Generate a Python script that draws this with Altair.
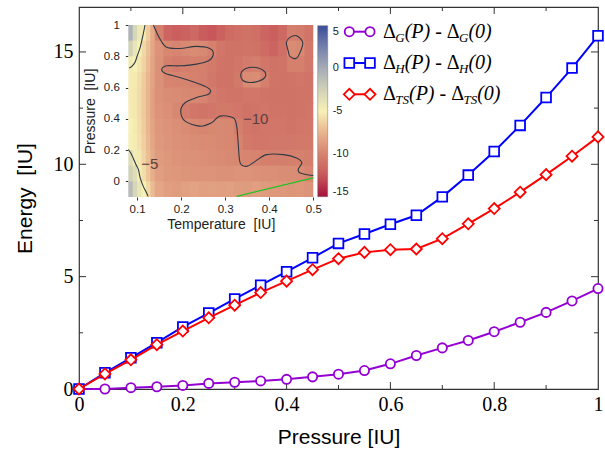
import altair as alt
import pandas as pd

SERIF = "Liberation Serif"
SANS = "Liberation Sans"
FRAME = "#333333"
NBSP = "\u00a0"

# ---------------- main panel: energy differences vs pressure ----------------
pressure = [0.0, 0.05, 0.10, 0.15, 0.20, 0.25, 0.30, 0.35, 0.40, 0.45, 0.50,
            0.55, 0.60, 0.65, 0.70, 0.75, 0.80, 0.85, 0.90, 0.95, 1.0]
delta_g = [0.0, 0.0, 0.06, 0.10, 0.16, 0.25, 0.30, 0.36, 0.43, 0.54, 0.66,
           0.82, 1.12, 1.49, 1.83, 2.16, 2.55, 2.97, 3.41, 3.92, 4.47]
delta_h = [0.0, 0.72, 1.39, 2.06, 2.76, 3.38, 4.01, 4.62, 5.22, 5.84, 6.48,
           6.90, 7.33, 7.73, 8.55, 9.52, 10.57, 11.73, 12.97, 14.28, 15.72]
delta_ts = [0.0, 0.67, 1.30, 1.97, 2.58, 3.17, 3.73, 4.29, 4.80, 5.31, 5.80,
            6.08, 6.20, 6.23, 6.69, 7.35, 8.03, 8.76, 9.54, 10.36, 11.22]

# (subscript, values, colour, marker shape, marker area)
series = [
    ("G", delta_g, "#9400d3", "circle", 85),
    ("H", delta_h, "#0000ff", "square", 94),
    ("TS", delta_ts, "#ff0000", "diamond", 121),
]

x_labels = [0, 0.2, 0.4, 0.6, 0.8, 1]
y_labels = [0, 5, 10, 15]
x_major = [0.2, 0.4, 0.6, 0.8]
x_minor = [0.1, 0.3, 0.5, 0.7, 0.9]
y_major = [5, 10, 15]
y_minor = [2.5, 7.5, 12.5]

# ---------------- inset: map over temperature / pressure ----------------
t_edges = [0.08, 0.09, 0.10, 0.11, 0.12, 0.13, 0.14, 0.16, 0.18, 0.20, 0.22, 0.24,
           0.26, 0.28, 0.30, 0.32, 0.34, 0.36, 0.38, 0.40, 0.42, 0.44, 0.46, 0.48, 0.50]
p_edges = [1.0, 0.9, 0.8, 0.7, 0.6, 0.5, 0.4, 0.3, 0.2, 0.1, 0.0, -0.1]
heat_rows = [
    [-0.5, -2.8, -4.3, -5.3, -6.5, -8.0, -10.2, -11.8, -12.2, -12.0, -11.6, -12.3,
     -12.6, -12.0, -11.4, -11.2, -11.0, -11.2, -11.8, -12.2, -11.6, -10.3, -10.4, -10.9],
    [-2.5, -4.0, -5.0, -6.0, -7.0, -8.2, -9.2, -9.8, -9.9, -9.7, -9.6, -9.7,
     -10.1, -10.8, -11.0, -11.0, -10.9, -11.0, -11.4, -11.8, -11.2, -9.6, -9.7, -10.6],
    [-4.5, -5.0, -5.5, -6.2, -7.2, -8.3, -9.3, -10.2, -10.4, -10.3, -10.2, -10.2,
     -10.5, -10.9, -11.0, -10.8, -10.4, -10.3, -10.8, -11.0, -10.9, -10.2, -10.2, -10.7],
    [-5.2, -5.3, -5.8, -6.5, -7.4, -8.4, -9.3, -9.9, -10.0, -10.0, -10.1, -10.3,
     -10.7, -11.0, -11.0, -10.6, -9.6, -9.5, -10.2, -10.9, -11.0, -10.9, -10.8, -10.9],
    [-5.3, -5.4, -5.9, -6.6, -7.5, -8.5, -9.3, -9.5, -9.6, -9.7, -9.8, -9.9,
     -10.4, -10.8, -10.9, -10.9, -10.8, -10.8, -10.9, -11.0, -11.0, -11.0, -10.9, -10.9],
    [-5.2, -5.4, -5.9, -6.6, -7.5, -8.5, -9.2, -9.4, -9.8, -10.4, -10.8, -10.9,
     -10.8, -10.6, -10.6, -10.8, -11.0, -10.9, -10.8, -10.9, -10.9, -11.0, -10.9, -10.8],
    [-5.0, -5.3, -5.8, -6.5, -7.4, -8.3, -9.0, -9.2, -9.4, -9.6, -9.8, -9.9,
     -9.8, -9.7, -9.8, -10.3, -10.8, -10.9, -10.8, -10.8, -10.8, -10.9, -10.8, -10.7],
    [-4.8, -5.2, -5.7, -6.4, -7.3, -8.2, -8.9, -9.1, -9.3, -9.4, -9.5, -9.6,
     -9.6, -9.7, -9.8, -10.0, -10.6, -10.8, -10.8, -10.7, -10.7, -10.7, -10.6, -10.6],
    [-3.5, -4.6, -5.4, -6.2, -7.1, -8.0, -8.8, -9.0, -9.2, -9.3, -9.3, -9.4,
     -9.5, -9.6, -9.7, -9.8, -9.9, -10.0, -10.2, -10.3, -10.3, -10.2, -10.1, -10.3],
    [-2.5, -3.5, -4.7, -5.8, -6.8, -7.8, -8.6, -8.9, -9.0, -9.1, -9.2, -9.2,
     -9.2, -9.3, -9.3, -9.2, -9.2, -9.3, -9.4, -9.4, -9.5, -9.5, -9.6, -9.9],
    [-1.0, -2.8, -4.0, -5.0, -6.0, -7.2, -8.2, -8.6, -8.7, -8.5, -8.4, -8.6,
     -8.5, -8.6, -8.5, -8.7, -8.8, -8.6, -8.8, -8.9, -9.0, -9.1, -9.0, -9.2],
]

cbar_stops = [-15, -12.5, -10, -7.5, -5, -2.5, 0, 2.5, 5]
cbar_colors = ["#a5103a", "#c85a5c", "#d6836f", "#e9b48e", "#f7f1b6",
               "#d2d2b8", "#a6abb6", "#7580ab", "#3b4c9a"]
cbar_labels = [5, 0, -5, -10, -15]

# contour lines (temperature, pressure)
contour_m10_t = [0.137, 0.152, 0.167, 0.197, 0.235, 0.265, 0.273, 0.262, 0.235, 0.197,
                 0.167, 0.156, 0.163, 0.197, 0.243, 0.265, 0.262, 0.235, 0.209, 0.199,
                 0.209, 0.243, 0.269, 0.288, 0.318, 0.326, 0.330, 0.334, 0.349, 0.368,
                 0.394, 0.432, 0.462, 0.474, 0.466, 0.470, 0.500]
contour_m10_p = [1.0, 0.91, 0.857, 0.85, 0.863, 0.85, 0.814, 0.771, 0.75, 0.739,
                 0.739, 0.717, 0.692, 0.664, 0.621, 0.589, 0.557, 0.536, 0.503, 0.45,
                 0.385, 0.353, 0.375, 0.417, 0.407, 0.353, 0.225, 0.118, 0.096, 0.128,
                 0.171, 0.171, 0.15, 0.118, 0.08, 0.054, 0.037]
contour_m5_top_t = [0.118, 0.113, 0.107, 0.100, 0.095, 0.088, 0.082]
contour_m5_top_p = [1.0, 0.93, 0.857, 0.80, 0.76, 0.735, 0.725]
contour_m5_bot_t = [0.080, 0.086, 0.091, 0.097, 0.103, 0.107, 0.114, 0.120, 0.125]
contour_m5_bot_p = [0.204, 0.18, 0.15, 0.11, 0.075, 0.022, -0.032, -0.065, -0.096]
island_a_t = [0.335, 0.34, 0.355, 0.375, 0.39, 0.39, 0.375, 0.355, 0.34]
island_a_p = [0.68, 0.71, 0.728, 0.725, 0.70, 0.665, 0.64, 0.632, 0.645]
island_b_t = [0.462, 0.476, 0.47, 0.461, 0.447, 0.443, 0.439, 0.447]
island_b_p = [0.931, 0.889, 0.825, 0.786, 0.799, 0.835, 0.889, 0.921]
green_t = [0.326, 0.50]
green_p = [-0.096, 0.022]
contour_text = ["\u221210", "\u22125"]
contour_text_t = [0.369, 0.129]
contour_text_p = [0.40, 0.114]

# ---------------- layout ----------------
W, H = 519, 382
MAJOR, MINOR = 7, 4
INSET_X = [49.3, 234.3]      # pixel span of the inset map inside the plot area
INSET_Y = [190, 18]
CELL_PAD_T, CELL_PAD_P = 0.002, 0.005   # tiny overlap so adjacent cells leave no seams

xs = alt.Scale(domain=[0, 1], nice=False, zero=False)
ys = alt.Scale(domain=[0, 17], nice=False, zero=False)
x_axis = alt.Axis(values=x_labels, labelExpr="'' + datum.value", labelFont=SERIF,
                  labelFontSize=20, labelColor="black", labelPadding=5, labelFlush=False,
                  ticks=False, domain=False, grid=False, title="Pressure [IU]",
                  titleFont=SANS, titleFontSize=21, titleFontWeight="normal",
                  titleColor="black", titlePadding=12)
y_axis = alt.Axis(values=y_labels, labelExpr="'' + datum.value", labelFont=SERIF,
                  labelFontSize=20, labelColor="black", labelPadding=6, labelFlush=False,
                  ticks=False, domain=False, grid=False, title="Energy" + NBSP * 2 + "[IU]",
                  titleFont=SANS, titleFontSize=21, titleFontWeight="normal",
                  titleColor="black", titlePadding=18)


def X(field):
    return alt.X(f"{field}:Q", scale=xs, axis=x_axis)


def Y(field):
    return alt.Y(f"{field}:Q", scale=ys, axis=y_axis)


main_layers = []

# inward ticks on all four sides
for vals, length in ((x_major, MAJOR), (x_minor, MINOR)):
    base = alt.Chart(pd.DataFrame({"v": vals})).mark_rule(color=FRAME, strokeWidth=1)
    main_layers.append(base.encode(x=X("v"), y=alt.value(H), y2=alt.value(H - length)))
    main_layers.append(base.encode(x=X("v"), y=alt.value(0), y2=alt.value(length)))
for vals, length in ((y_major, MAJOR), (y_minor, MINOR)):
    base = alt.Chart(pd.DataFrame({"v": vals})).mark_rule(color=FRAME, strokeWidth=1)
    main_layers.append(base.encode(y=Y("v"), x=alt.value(0), x2=alt.value(length)))
    main_layers.append(base.encode(y=Y("v"), x=alt.value(W), x2=alt.value(W - length)))

# the three curves
for sub, vals, color, shape, size in series:
    base = alt.Chart(pd.DataFrame({"p": pressure, "e": vals})).encode(x=X("p"), y=Y("e"))
    main_layers.append(base.mark_line(color=color, strokeWidth=2))
    main_layers.append(base.mark_point(shape=shape, size=size, filled=True, fill="white",
                                       stroke=color, strokeWidth=1.8, opacity=1))

# legend: marker-line-marker glyph plus Δ_X(P) - Δ_X(0) with subscripts
LEG_X0, LEG_X1 = 270.3, 291.0
LEG_TEXT_X = 304.0
LEG_Y0, LEG_DY = 24.7, 31.3
FS, SUB_FS = 20, 13
sub_em = {"G": 0.722, "H": 0.722, "TS": 1.056}
one = pd.DataFrame({"k": [0]})
for r, (sub, vals, color, shape, size) in enumerate(series):
    y = LEG_Y0 + r * LEG_DY
    main_layers.append(alt.Chart(one).mark_rule(color=color, strokeWidth=2).encode(
        x=alt.value(LEG_X0), x2=alt.value(LEG_X1), y=alt.value(y)))
    for gx in (LEG_X0, LEG_X1):
        main_layers.append(alt.Chart(one).mark_point(
            shape=shape, size=size, filled=True, fill="white", stroke=color,
            strokeWidth=1.8, opacity=1).encode(x=alt.value(gx), y=alt.value(y)))
    pieces = [
        ("\u0394", "normal", FS, 0.612, 6),
        (sub, "italic", SUB_FS, sub_em[sub], 10),
        ("(P)" + NBSP + "-" + NBSP, "italic", FS, 2.11, 6),
        ("\u0394", "normal", FS, 0.612, 6),
        (sub, "italic", SUB_FS, sub_em[sub], 10),
        ("(0)", "italic", FS, 1.166, 6),
    ]
    cx = LEG_TEXT_X
    for txt, style, fs, em, dy in pieces:
        main_layers.append(alt.Chart(one).mark_text(
            align="left", baseline="alphabetic", font=SERIF, fontSize=fs,
            fontStyle=style, color="black").encode(
            x=alt.value(cx), y=alt.value(y + dy), text=alt.value(txt)))
        cx += em * fs

main = alt.layer(*main_layers)

# ---------------- inset chart ----------------
ixs = alt.Scale(domain=[0.08, 0.5], range=INSET_X, nice=False, zero=False, clamp=True)
iys = alt.Scale(domain=[-0.1, 1.0], range=INSET_Y, nice=False, zero=False, clamp=True)
ix_axis = alt.Axis(orient="bottom", offset=-(H - INSET_Y[0]), values=[0.1, 0.2, 0.3, 0.4, 0.5],
                   labelExpr="'' + datum.value", labelFont=SANS, labelFontSize=11.5,
                   labelColor="#222222", labelPadding=3, labelFlush=False, domain=False,
                   grid=False, tickSize=3, tickColor="#333333",
                   title="Temperature" + NBSP * 2 + "[IU]",
                   titleFont=SANS, titleFontSize=14, titleFontWeight="normal",
                   titleColor="#222222", titlePadding=3)
iy_axis = alt.Axis(orient="left", offset=-INSET_X[0], values=[0, 0.2, 0.4, 0.6, 0.8, 1],
                   labelExpr="'' + datum.value", labelFont=SANS, labelFontSize=11.5,
                   labelColor="#222222", labelPadding=6, labelFlush=False, domain=False,
                   grid=False, tickSize=3, tickColor="#333333",
                   title="Pressure" + NBSP * 2 + "[IU]",
                   titleFont=SANS, titleFontSize=14, titleFontWeight="normal",
                   titleColor="#222222", titlePadding=6)


def IX(field):
    return alt.X(f"{field}:Q", scale=ixs, axis=ix_axis)


def IY(field):
    return alt.Y(f"{field}:Q", scale=iys, axis=iy_axis)


heat = []
for i, row in enumerate(heat_rows):
    for j, v in enumerate(row):
        heat.append({"t0": t_edges[j], "t1": t_edges[j + 1] + CELL_PAD_T,
                     "p0": p_edges[i + 1] - CELL_PAD_P, "p1": p_edges[i], "v": v})
heat_df = pd.DataFrame(heat)

cscale = alt.Scale(type="linear", domain=cbar_stops, range=cbar_colors, interpolate="rgb")
cbar = alt.Legend(type="gradient", orient="none", legendX=238.7, legendY=18.7,
                  direction="vertical", gradientLength=171, gradientThickness=10,
                  title=None, values=cbar_labels, labelExpr="'' + datum.value",
                  labelFont=SANS, labelFontSize=11, labelColor="#222222", labelOffset=5,
                  labelOverlap=False, gradientStrokeColor="#777777",
                  gradientStrokeWidth=0.5, padding=0)

heatmap = alt.Chart(heat_df).mark_rect(opacity=1).encode(
    x=IX("t0"), x2="t1:Q", y=IY("p0"), y2="p1:Q",
    color=alt.Color("v:Q", scale=cscale, legend=cbar),
)

open_rows = []
for seg, ts, ps in (("m10", contour_m10_t, contour_m10_p),
                    ("m5top", contour_m5_top_t, contour_m5_top_p),
                    ("m5bot", contour_m5_bot_t, contour_m5_bot_p)):
    for k, (t, p) in enumerate(zip(ts, ps)):
        open_rows.append({"seg": seg, "i": k, "t": t, "p": p})
closed_rows = []
for seg, ts, ps in (("a", island_a_t, island_a_p), ("b", island_b_t, island_b_p)):
    for k, (t, p) in enumerate(zip(ts, ps)):
        closed_rows.append({"seg": seg, "i": k, "t": t, "p": p})

contours = alt.Chart(pd.DataFrame(open_rows)).mark_line(
    color="#2e3a44", strokeWidth=1.1, interpolate="cardinal").encode(
    x=IX("t"), y=IY("p"), detail="seg:N", order="i:Q")
islands = alt.Chart(pd.DataFrame(closed_rows)).mark_line(
    color="#2e3a44", strokeWidth=1.1, interpolate="cardinal-closed").encode(
    x=IX("t"), y=IY("p"), detail="seg:N", order="i:Q")
green = alt.Chart(pd.DataFrame({"t": green_t, "p": green_p})).mark_line(
    color="#22c422", strokeWidth=1.2).encode(x=IX("t"), y=IY("p"))
labels = alt.Chart(pd.DataFrame({"t": contour_text_t, "p": contour_text_p,
                                 "s": contour_text})).mark_text(
    font=SANS, fontSize=15, color="#5b3f3f").encode(x=IX("t"), y=IY("p"), text="s:N")

inset = alt.layer(heatmap, contours, islands, green, labels)

chart = alt.layer(main, inset).resolve_scale(
    x="independent", y="independent"
).properties(
    width=W, height=H,
    autosize=alt.AutoSizeParams(type="none"),
    padding={"left": 79, "top": 7, "right": 7, "bottom": 63},
).configure_view(stroke=FRAME, strokeWidth=1.2)

chart.save("out.html", embed_options={"renderer": "svg", "actions": False})
